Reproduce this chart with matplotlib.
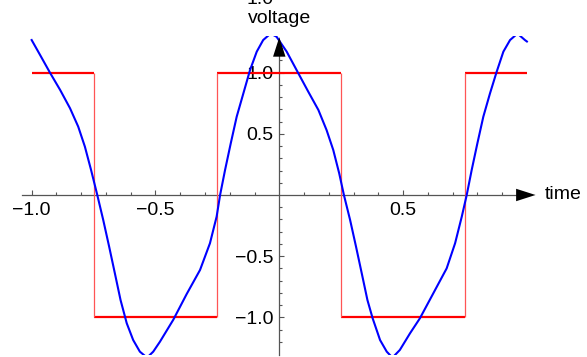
import matplotlib
matplotlib.use('Agg')
import matplotlib.pyplot as plt
import numpy as np

plt.rcParams['font.family'] = ['Liberation Sans', 'DejaVu Sans']

# square wave: switching times and the level held in between
edges  = [-1.0, -0.75, -0.25, 0.25, 0.75, 1.0]
levels = [1, -1, 1, -1, 1]

# partial-sum approximation, sampled along the time axis
t_approx = [-1.000, -0.966, -0.926, -0.885, -0.845, -0.812, -0.785, -0.760,
            -0.735, -0.711, -0.687, -0.664, -0.641, -0.616, -0.590, -0.563,
            -0.534, -0.509, -0.482, -0.455, -0.428, -0.374, -0.320, -0.280,
            -0.253, -0.239, -0.219, -0.196, -0.172, -0.145, -0.118, -0.091,
            -0.065, -0.035, -0.011, 0.030, 0.077, 0.117, 0.158, 0.191,
            0.218, 0.242, 0.261, 0.286, 0.310, 0.333, 0.356, 0.377,
            0.407, 0.434, 0.457, 0.487, 0.528, 0.568, 0.622, 0.676,
            0.710, 0.737, 0.757, 0.777, 0.800, 0.824, 0.851, 0.878,
            0.905, 0.932, 0.962, 0.992, 1.000]
v_approx = [1.267, 1.145, 1.000, 0.859, 0.709, 0.559, 0.395, 0.204,
            0.000, -0.204, -0.423, -0.640, -0.859, -1.049, -1.186, -1.281,
            -1.330, -1.281, -1.200, -1.110, -1.020, -0.810, -0.613, -0.395,
            -0.177, 0.000, 0.204, 0.422, 0.640, 0.831, 1.022, 1.172,
            1.267, 1.320, 1.294, 1.172, 0.995, 0.845, 0.695, 0.531,
            0.368, 0.177, 0.000, -0.204, -0.423, -0.640, -0.859, -1.008,
            -1.186, -1.281, -1.330, -1.267, -1.131, -1.008, -0.804, -0.600,
            -0.395, -0.177, 0.000, 0.204, 0.422, 0.640, 0.831, 1.008,
            1.172, 1.267, 1.320, 1.267, 1.255]

x_major = [-1.0, -0.5, 0.5]
x_major_labels = ['\u22121.0', '\u22120.5', '0.5']
y_major = [-1.0, -0.5, 0.5, 1.0]
y_major_labels = ['\u22121.0', '\u22120.5', '0.5', '1.0']

axis_grey = '#555555'

fig = plt.figure(figsize=(5.87, 3.57), dpi=100)
ax = fig.add_axes([16.8 / 587, 1.8 / 357, 520 / 587, 319.2 / 357])
ax.set_xlim(-1.06, 1.04)
ax.set_ylim(-1.31, 1.30)

# square wave: flat parts thick, jumps thin
ax.hlines(levels, edges[:-1], edges[1:], color='#ff0000', lw=1.6, zorder=3)
ax.vlines(edges[1:-1], -1, 1, color='#ff5555', lw=0.9, zorder=3)

ax.plot(t_approx, v_approx, color='#0000ff', lw=1.5, zorder=4,
        solid_joinstyle='round')

# axes through the origin
for side in ['top', 'right']:
    ax.spines[side].set_visible(False)
ax.spines['bottom'].set_position(('data', 0))
ax.spines['left'].set_position(('data', 0))
ax.spines['bottom'].set_bounds(-1.04, 1.0)
ax.spines['left'].set_bounds(-1.31, 1.2)
for side in ['bottom', 'left']:
    ax.spines[side].set_color(axis_grey)
    ax.spines[side].set_linewidth(0.9)

ax.set_xticks(x_major)
ax.set_xticklabels(x_major_labels)
ax.set_xticks([t for t in np.round(np.arange(-1.0, 0.95, 0.1), 1)
               if t not in x_major and t != 0], minor=True)
ax.set_yticks(y_major)
ax.set_yticklabels(y_major_labels)
ax.set_yticks([v for v in np.round(np.arange(-1.2, 1.25, 0.1), 1)
               if v not in y_major and v != 0], minor=True)
ax.tick_params(which='both', direction='in', color=axis_grey, width=0.8,
               labelsize=14)
ax.tick_params(which='major', length=3.5)
ax.tick_params(which='minor', length=2.2)
ax.tick_params(axis='x', which='major', pad=5)
ax.tick_params(axis='y', which='major', pad=4)

# arrow heads on both axes
head = dict(arrowstyle='-|>,head_length=1.0,head_width=0.32',
            mutation_scale=14, color='black', lw=0, shrinkA=0, shrinkB=0)
ax.annotate('', xy=(1.035, 0), xytext=(0.955, 0), arrowprops=head,
            annotation_clip=False, zorder=6)
ax.annotate('', xy=(0, 1.29), xytext=(0, 1.13), arrowprops=head,
            annotation_clip=False, zorder=6)

ax.text(1.073, 0, 'time', fontsize=14, ha='left', va='center')
ax.text(0, 1.44, 'voltage', fontsize=14, ha='center', va='center')
ax.text(-0.078, 1.562, '1.0', fontsize=14, ha='center', va='baseline')

fig.savefig('out.png', dpi=100)
